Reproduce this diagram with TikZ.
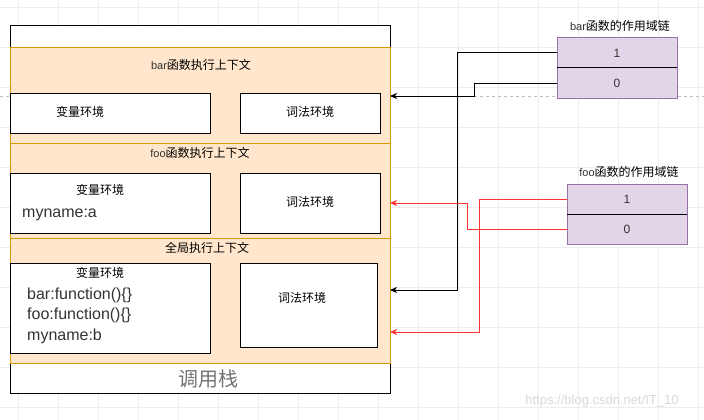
\documentclass[tikz,border=0pt]{standalone}
\usepackage{fontspec}
\setmainfont{Liberation Sans}
\newfontfamily\cjk{Noto Sans CJK SC}
\usetikzlibrary{arrows.meta, positioning}
\definecolor{ctxfill}{HTML}{FFE6CC}
\definecolor{ctxline}{HTML}{D79B00}
\definecolor{chainfill}{HTML}{E1D5E7}
\definecolor{chainline}{HTML}{9673A6}
\definecolor{txtgray}{HTML}{333333}
\definecolor{scopered}{HTML}{FF3333}
\definecolor{gridgray}{HTML}{EDEDED}

\begin{document}
\begin{tikzpicture}[x=1pt, y=-1pt,
	ctx/.style={draw=ctxline, fill=ctxfill, line width=1pt, minimum width=380pt, inner sep=0pt, outer sep=0pt},
	envbox/.style={draw, fill=white, line width=1pt, inner sep=0pt, outer sep=0pt},
	chainrow/.style={draw=chainline, fill=chainfill, line width=1pt, minimum width=120pt, minimum height=30pt, inner sep=0pt, outer sep=0pt, text=txtgray, font=\fontsize{12}{14}\selectfont},
	cn/.style={inner sep=0pt, font=\cjk\fontsize{12}{14}\selectfont},
	code/.style={inner sep=0pt, anchor=west, text=txtgray, font=\fontsize{16}{20}\selectfont},
	ptr/.style={-{Stealth[length=7pt, width=6pt, inset=2pt]}, line width=1pt}]
	\useasboundingbox (0,0) rectangle (704,420);
	\fill[white] (0,0) rectangle (704,420);
	% background grid
	\foreach \gx in {18,58,...,698}
		\draw[gridgray] (\gx,0) -- (\gx,420);
	\foreach \gy in {7,47,...,407}
		\draw[gridgray] (0,\gy) -- (704,\gy);
	\draw[gray!50, dash pattern=on 3pt off 3pt] (0,96) -- (704,96);

	% call stack
	\node[draw, fill=white, line width=1pt, minimum width=380pt, minimum height=367pt, inner sep=0pt, outer sep=0pt] (stack) at (200,209.5) {};
	\node[ctx, minimum height=95pt] (barctx) at (200,95.5) {};
	\node[ctx, minimum height=95pt] (fooctx) at (200,190.5) {};
	\node[ctx, minimum height=125pt] (globalctx) at (200,300.5) {};
	\node[inner sep=0pt, text=gray!90!black, font=\cjk\fontsize{20}{24}\selectfont] (stacklabel) at (208,379) {调用栈};

	% bar context
	\node[cn] (bartitle) at (201,65) {{\fontspec{Liberation Sans}\fontsize{11}{14}\selectfont\color{txtgray}bar}函数执行上下文};
	\node[envbox, minimum width=200pt, minimum height=40pt] (barvar) at (110,113) {};
	\node[envbox, minimum width=140pt, minimum height=40pt] (barlex) at (310,113) {};
	\node[cn] (barvartext) at (80,112) {变量环境};
	\node[cn] (barlextext) at (310,112) {词法环境};

	% foo context
	\node[cn] (footitle) at (200,153) {{\fontspec{Liberation Sans}\fontsize{11}{14}\selectfont\color{txtgray}foo}函数执行上下文};
	\node[envbox, minimum width=200pt, minimum height=60pt] (foovar) at (110,203) {};
	\node[envbox, minimum width=140pt, minimum height=60pt] (foolex) at (310,203) {};
	\node[cn] (foovartext) at (100,190) {变量环境};
	\node[code] (fooname) at (22,215) {myname:a};
	\node[cn] (foolextext) at (310,202) {词法环境};

	% global context
	\node[cn] (globaltitle) at (207,248) {全局执行上下文};
	\node[envbox, minimum width=200pt, minimum height=90pt] (globvar) at (110,308) {};
	\node[envbox, minimum width=137pt, minimum height=84pt] (globlex) at (308.5,305) {};
	\node[cn] (globvartext) at (100,273) {变量环境};
	\node[code] (globbar) at (27,295) {bar:function()\{\}};
	\node[code] (globfoo) at (27,315) {foo:function()\{\}};
	\node[code] (globname) at (27,336) {myname:b};
	\node[cn] (globlextext) at (302,298) {词法环境};

	% scope chains
	\node[cn] (barchain) at (620,26) {{\fontspec{Liberation Sans}\fontsize{11}{14}\selectfont\color{txtgray}bar}函数的作用域链};
	\node[chainrow] (barone) at (617,53) {1};
	\node[chainrow] (bartwo) at (617,83) {0};
	\draw[line width=1pt] (barone.south west) -- (barone.south east);
	\node[cn] (foochain) at (629,172) {{\fontspec{Liberation Sans}\fontsize{11}{14}\selectfont\color{txtgray}foo}函数的作用域链};
	\node[chainrow] (fooone) at (627,199) {1};
	\node[chainrow] (footwo) at (627,229) {0};
	\draw[line width=1pt] (fooone.south west) -- (fooone.south east);

	% arrow ends on the stack
	\coordinate (barin) at (390,96);
	\coordinate (foolexin) at (390,203);
	\coordinate (globin) at (390,290);
	\coordinate (globinred) at (390,332);
	\draw[ptr] (barone.west) -| (457,290) -- (globin);
	\draw[ptr] (bartwo.west) -| (474,96) -- (barin);
	\draw[ptr, scopered] (fooone.west) -| (479,332) -- (globinred);
	\draw[ptr, scopered] (footwo.west) -| (467,203) -- (foolexin);

	\node[inner sep=0pt, text=gray!30, font=\fontsize{13}{15}\selectfont] (mark) at (602,401) {https://blog.csdn.net/IT\_10};
\end{tikzpicture}
\end{document}
